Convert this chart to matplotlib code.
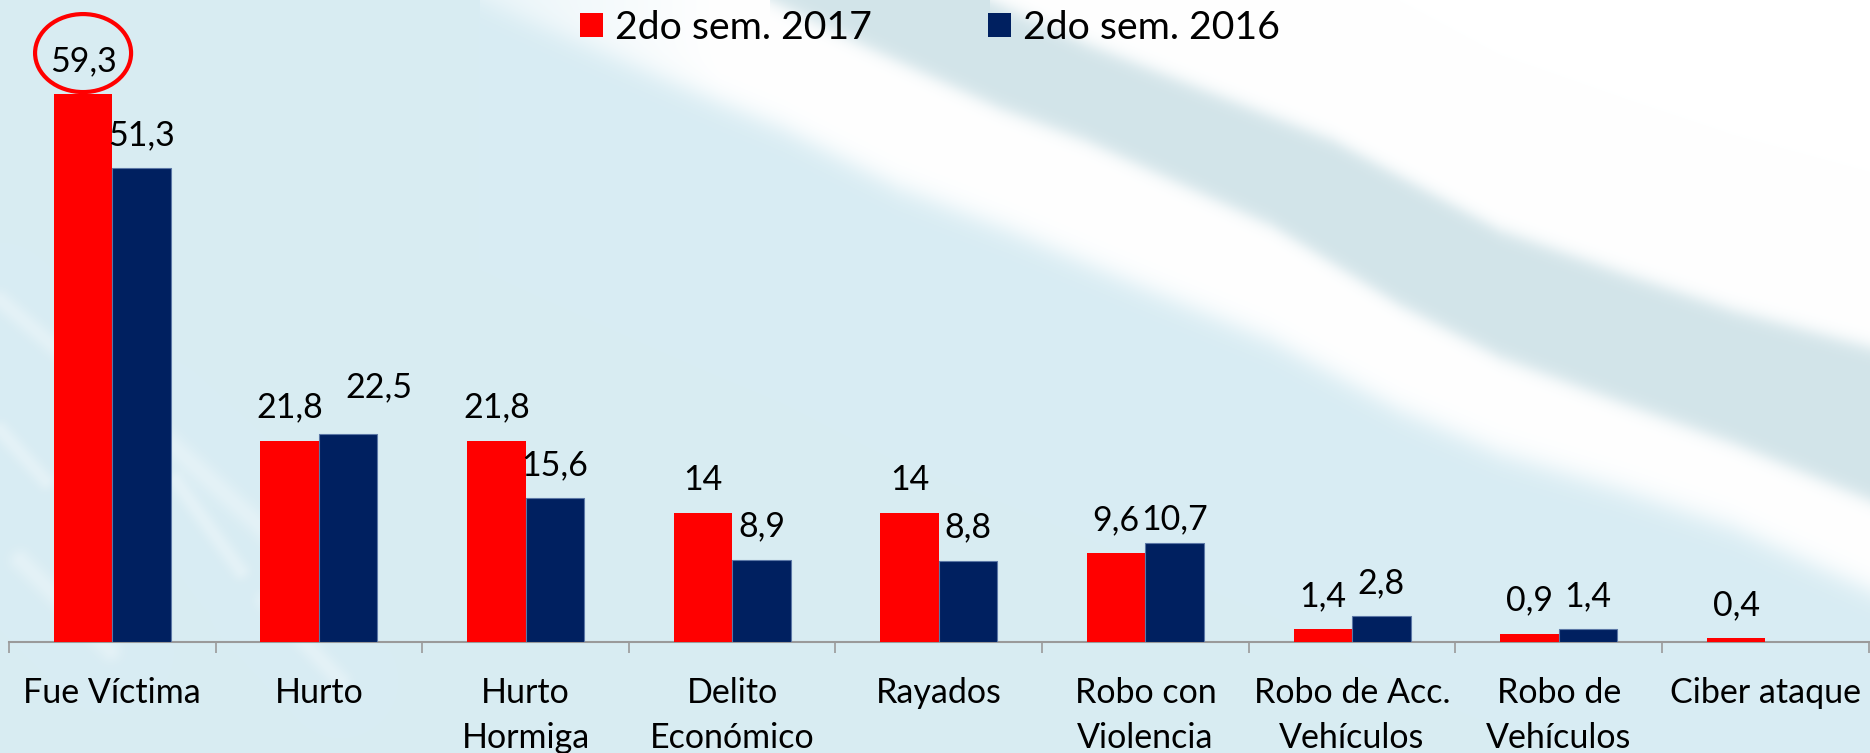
import numpy as np
import matplotlib
matplotlib.use("Agg")
import matplotlib.pyplot as plt
from matplotlib.patches import Ellipse, Patch
from matplotlib.transforms import offset_copy

# ---------------- data ----------------
categories = ["Fue Víctima", "Hurto", "Hurto\nHormiga", "Delito\nEconómico", "Rayados",
              "Robo con\nViolencia", "Robo de Acc.\nVehículos", "Robo de\nVehículos", "Ciber ataque"]
sem2017 = [59.3, 21.8, 21.8, 14.0, 14.0, 9.6, 1.4, 0.9, 0.4]
sem2016 = [51.3, 22.5, 15.6, 8.9, 8.8, 10.7, 2.8, 1.4, np.nan]
series_names = ["2do sem. 2017", "2do sem. 2016"]
colors = ["#FF0000", "#002060"]

FONT = ["Lato", "DejaVu Sans"]
plt.rcParams["font.family"] = FONT
FS = 24.5
FS_LEG = 28.3

W, H = 1870, 753
fig = plt.figure(figsize=(W / 100, H / 100), dpi=100)

# ---------------- decorative background ----------------
bg_ax = fig.add_axes([0, 0, 1, 1], zorder=-10)
bg_ax.set_axis_off()
yy, xx = np.mgrid[0:H, 0:W].astype(float)
cols = np.arange(W, dtype=float)

def curve(px, py):
    return np.interp(cols, px, py, left=-300, right=py[-1])[None, :]

yA = curve([990, 1085, 1333, 1500, 1623, 1733, 1870], [0, 43, 140, 230, 273, 310, 347])
yB = curve([770, 859, 1000, 1085, 1271, 1400, 1500, 1623, 1733, 1870],
           [0, 43, 108, 140, 225, 305, 357, 403, 443, 500])
yC = curve([480, 550, 668, 783, 898, 1009, 1150, 1271, 1400, 1500, 1623, 1733, 1870],
           [0, 30, 80, 128, 187, 230, 290, 340, 410, 453, 490, 527, 590])

def soft(d, s=5.0):
    return 1.0 / (1.0 + np.exp(-np.clip(d / s, -50, 50)))

base = np.array([216, 236, 243]) / 255.0
grey = np.array([210, 228, 233]) / 255.0
img = np.ones((H, W, 3)) * base
fade = np.clip((xx - 420) / 300.0, 0, 1) * 0.65 + 0.35
m = (soft(yC - yy, 8) * fade)[..., None]
img = img * (1 - m) + 1.0 * m
m = soft(yB - yy, 5)[..., None]
img = img * (1 - m) + grey * m
m = soft(yA - yy, 5)[..., None]
img = img * (1 - m) + 1.0 * m

# faint diffuse streaks on the left
streaks = [((0, 300), (70, 360), 10), ((0, 430), (45, 480), 9), ((150, 425), (270, 535), 12),
           ((175, 480), (240, 570), 9), ((20, 560), (110, 650), 11), ((265, 600), (340, 680), 10)]
for (x0, y0), (x1, y1), wdt in streaks:
    dx, dy = x1 - x0, y1 - y0
    L2 = dx * dx + dy * dy
    t = np.clip(((xx - x0) * dx + (yy - y0) * dy) / L2, 0, 1)
    dist = np.hypot(xx - (x0 + t * dx), yy - (y0 + t * dy))
    a = (np.exp(-(dist / wdt) ** 2) * 0.3)[..., None]
    img = img * (1 - a) + 1.0 * a

bg_ax.imshow(img, extent=[0, 1, 0, 1], aspect="auto", interpolation="bilinear")
bg_ax.set_xlim(0, 1)
bg_ax.set_ylim(0, 1)

# ---------------- main chart ----------------
left_px, right_px, axis_y_px = 9, 1868.6, 642
ax = fig.add_axes([left_px / W, 1 - axis_y_px / H, (right_px - left_px) / W, axis_y_px / H])
ax.set_facecolor("none")
n = len(categories)
x = np.arange(n)
bw = 0.283
ax.bar(x - bw / 2, sem2017, bw, color=colors[0], zorder=3)
ax.bar(x + bw / 2, sem2016, bw, color=colors[1], edgecolor="#5B77A6", linewidth=0.8, zorder=3)
ax.set_xlim(-0.5, n - 0.5)
ax.set_ylim(0, axis_y_px / 9.24)

for s in ["top", "left", "right"]:
    ax.spines[s].set_visible(False)
ax.spines["bottom"].set_color("#9A9A9A")
ax.spines["bottom"].set_linewidth(1.5)
ax.set_yticks([])
ax.set_xticks(np.arange(-0.5, n, 1.0))
ax.set_xticklabels([])
ax.tick_params(axis="x", which="major", direction="out", length=8, width=1.2, color="#9A9A9A")
ax.set_xticks(x, minor=True)
ax.set_xticklabels(categories, minor=True, fontsize=FS, linespacing=1.5)
ax.tick_params(axis="x", which="minor", length=0, pad=25)


def fmt(v):
    return str(int(v)) if float(v).is_integer() else f"{v:.1f}".replace(".", ",")

# per-label adjustments (pixels)
adjust = {(1, 1): (31, 14), (1, 5): (0, -9)}
GAP = 33
for si, vals in enumerate([sem2017, sem2016]):
    off = -bw / 2 if si == 0 else bw / 2
    for i, v in enumerate(vals):
        if np.isnan(v):
            continue
        dx, dy = adjust.get((si, i), (0, 0))
        ax.annotate(fmt(v), (i + off, v), xytext=(dx, GAP + dy), textcoords="offset pixels",
                    ha="center", va="center", fontsize=FS, color="black", zorder=5,
                    annotation_clip=False)

# highlight circle around the first value
ell = Ellipse((0 - bw / 2, sem2017[0]), width=96 / 206.6, height=78 / 9.24,
              fill=False, edgecolor="#FF0000", linewidth=3, zorder=6, clip_on=False)
ell.set_transform(offset_copy(ax.transData, fig=fig, x=0, y=41 * 0.72, units="points"))
ax.add_patch(ell)

# legend
handles = [Patch(facecolor=c, edgecolor="none") for c in colors]
fig.legend(handles, series_names, loc="center", bbox_to_anchor=(930 / W, 1 - 28 / H), ncol=2,
           frameon=False, fontsize=FS_LEG, handlelength=0.59, handleheight=0.59, handletextpad=0.32,
           columnspacing=2.93, borderpad=0, borderaxespad=0)

fig.savefig("out.png", dpi=100)
